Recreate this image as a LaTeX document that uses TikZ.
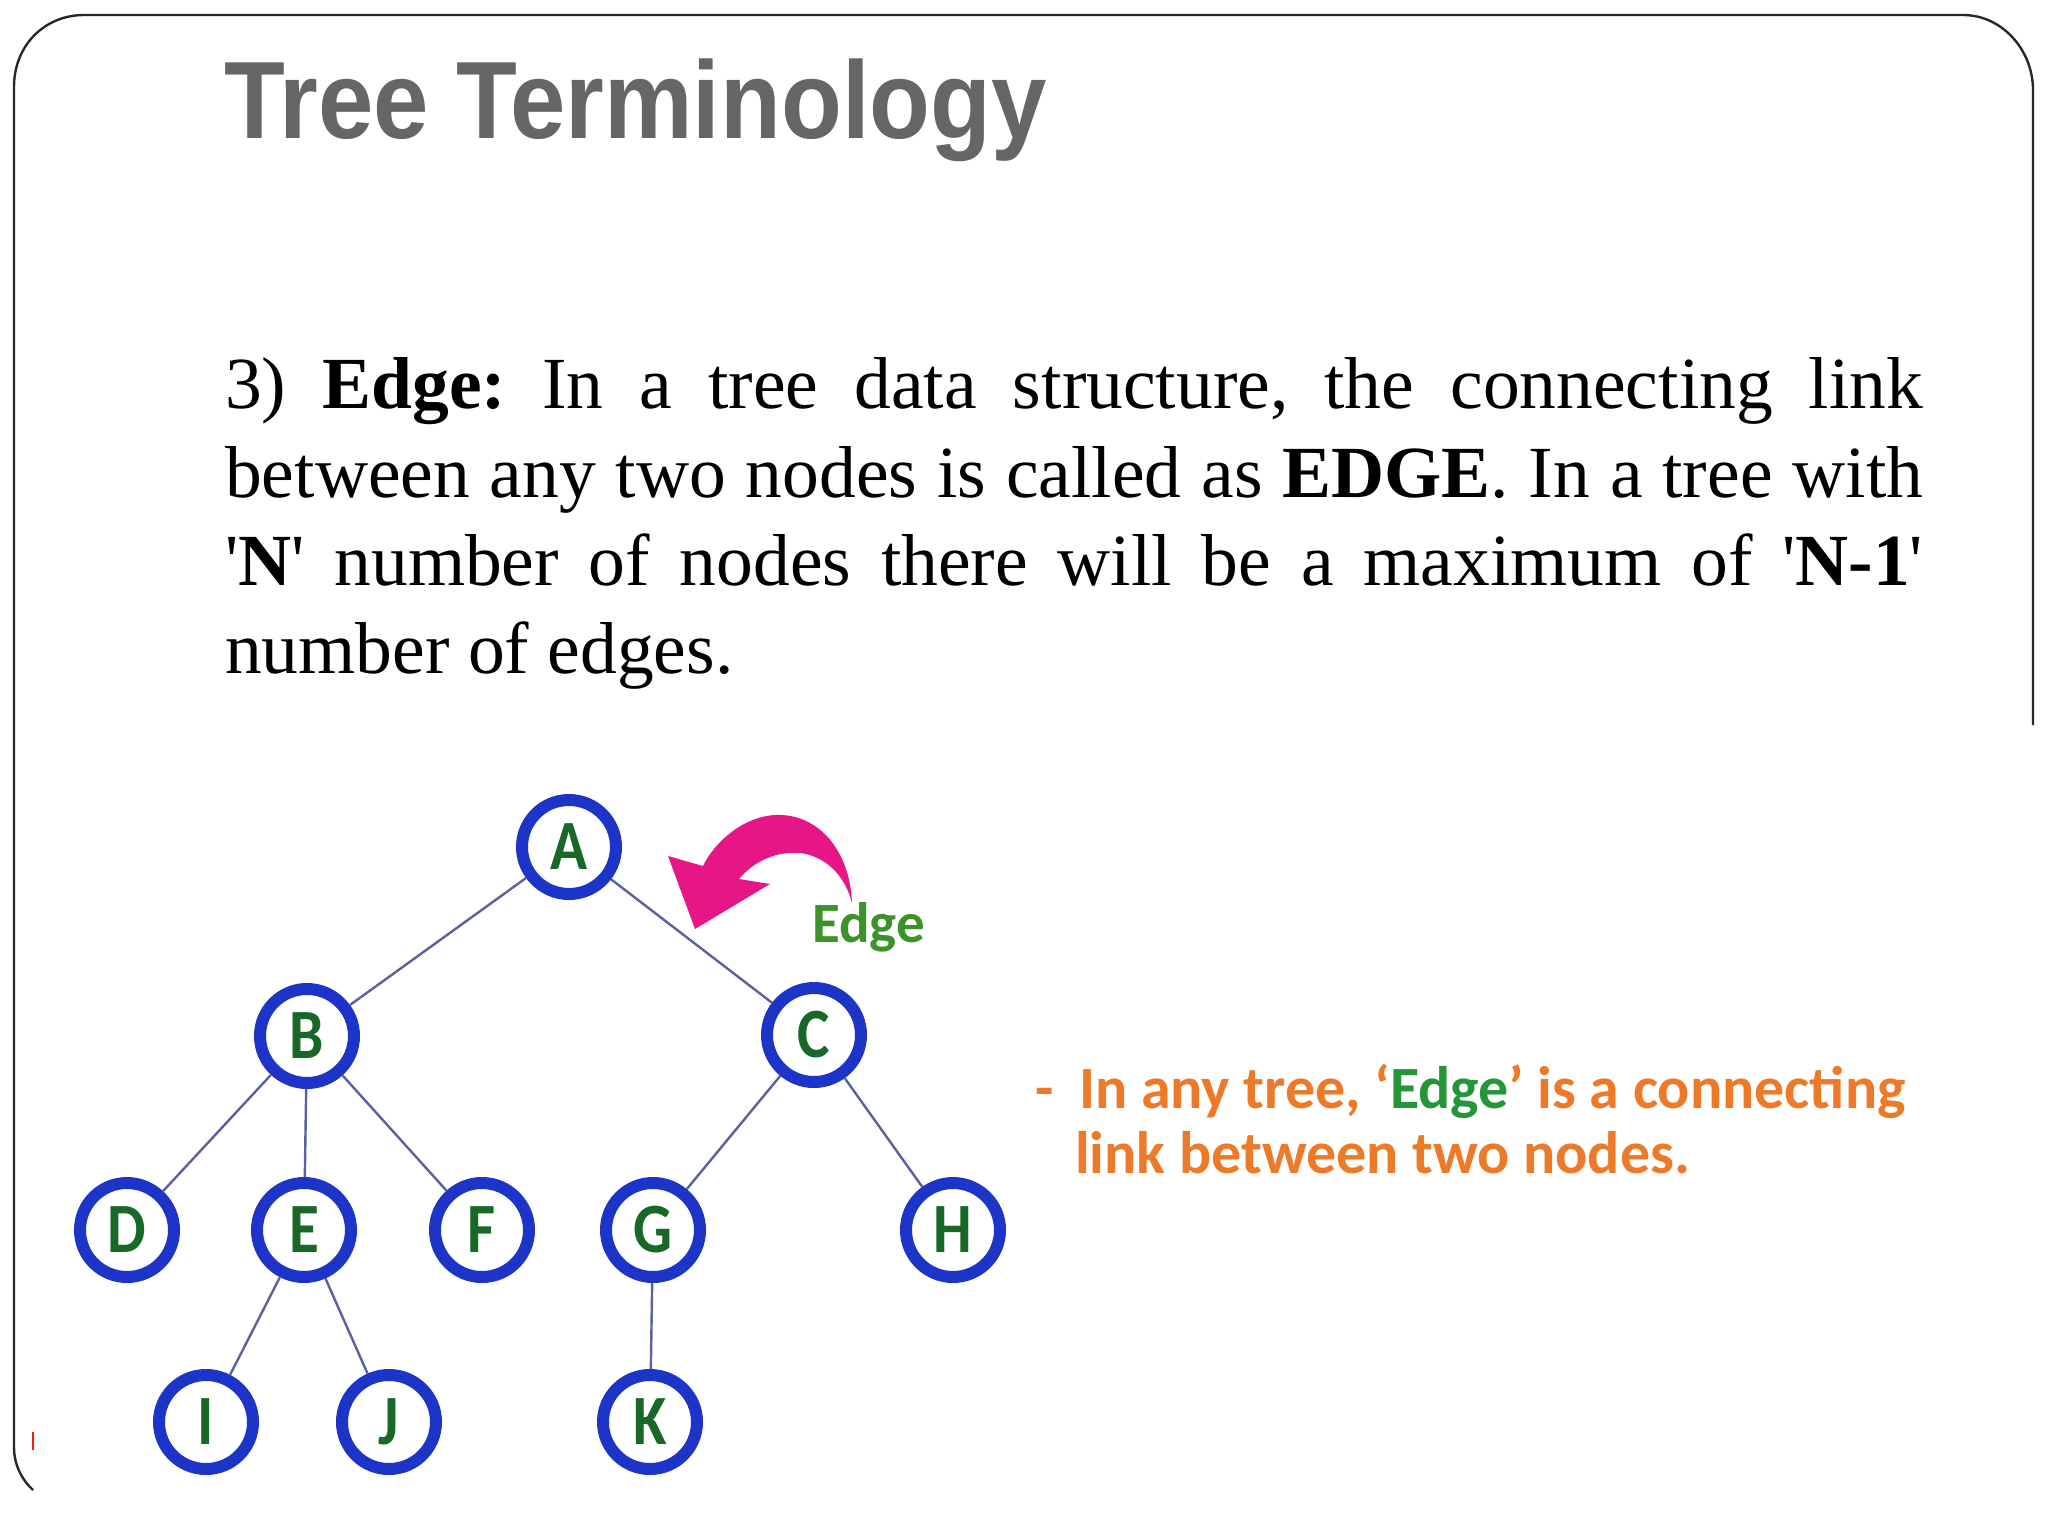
\documentclass[tikz,border=0pt]{standalone}
\usepackage{fontspec}
\setmainfont{Liberation Serif}
\newfontfamily\titlefont{Liberation Sans}
\newfontfamily\bodyfont{Liberation Serif}[Ligatures=TeXOff]
\newfontfamily\calfont{Carlito}
\definecolor{titlegray}{RGB}{103,101,102}
\definecolor{ringblue}{RGB}{28,52,200}
\definecolor{lettergreen}{RGB}{24,104,40}
\definecolor{edgeline}{RGB}{92,96,160}
\definecolor{pinkarrow}{RGB}{230,22,135}
\definecolor{labelgreen}{RGB}{62,146,42}
\definecolor{inlinegreen}{RGB}{34,150,56}
\definecolor{noteorange}{RGB}{236,122,40}
\definecolor{framegray}{RGB}{40,40,40}
\begin{document}
\frenchspacing
\begin{tikzpicture}[x=1pt,y=-1pt,
  treenode/.style={circle, draw=ringblue, line width=12pt, fill=white,
    minimum size=94pt, inner sep=0pt,
    font=\calfont\bfseries\fontsize{68}{68}\selectfont, text=lettergreen},
  link/.style={draw=edgeline, line width=2.4pt},
  bodyline/.style={anchor=base west, inner sep=0pt,
    font=\bodyfont\fontsize{73.5}{88}\selectfont},
  noteline/.style={anchor=base west, inner sep=0pt, text=noteorange,
    font=\calfont\bfseries\fontsize{60}{69}\selectfont},
  frameline/.style={draw=framegray, line width=2.4pt}
]
\useasboundingbox (0,0) rectangle (2048,1536);
\fill[white] (0,0) rectangle (2048,1536);

% slide frame
\draw[frameline] (33,1490) .. controls (22,1480) and (14,1465) .. (14,1447)
  -- (14,87) .. controls (14,45) and (45,15) .. (84,15)
  -- (1963,15) .. controls (2002,15) and (2033,50) .. (2033,90)
  -- (2033,725);
\draw[draw=red!80!orange, line width=1.6pt] (33,1432) -- (33,1450);

% title
\node[anchor=base west, inner sep=0pt, text=titlegray] (title) at (224,139)
  {\titlefont\bfseries\fontsize{110}{110}\selectfont\scalebox{0.905}[1]{Tree Terminology}};

% body text
\node[bodyline] (l1) at (225,408) {\makebox[1698pt][s]{3) \textbf{Edge:} In a tree data structure, the connecting link}};
\node[bodyline] (l2) at (225,497) {\makebox[1698pt][s]{between any two nodes is called as \textbf{EDGE}. In a tree with}};
\node[bodyline] (l3) at (225,585) {\makebox[1698pt][s]{'\textbf{N}' number of nodes there will be a maximum of '\textbf{N-1}'}};
\node[bodyline] (l4) at (225,673) {number of edges.};

% tree
\node[treenode] (A) at (569,847) {\scalebox{0.9}[1.04]{A}};
\node[treenode] (B) at (307,1036) {\scalebox{0.9}[1.04]{B}};
\node[treenode] (C) at (814,1035) {\scalebox{0.9}[1.04]{C}};
\node[treenode] (D) at (127,1230) {\scalebox{0.9}[1.04]{D}};
\node[treenode] (E) at (304,1230) {\scalebox{0.9}[1.04]{E}};
\node[treenode] (F) at (482,1230) {\scalebox{0.9}[1.04]{F}};
\node[treenode] (G) at (653,1230) {\scalebox{0.9}[1.04]{G}};
\node[treenode] (H) at (953,1230) {\scalebox{0.9}[1.04]{H}};
\node[treenode] (I) at (206,1422) {\scalebox{0.9}[1.04]{I}};
\node[treenode] (J) at (389,1422) {\scalebox{0.9}[1.04]{J}};
\node[treenode] (K) at (650,1422) {\scalebox{0.9}[1.04]{K}};

\draw[link] (A) -- (B);
\draw[link] (A) -- (C);
\draw[link] (B) -- (D);
\draw[link] (B) -- (E);
\draw[link] (B) -- (F);
\draw[link] (C) -- (G);
\draw[link] (C) -- (H);
\draw[link] (E) -- (I);
\draw[link] (E) -- (J);
\draw[link] (G) -- (K);

% pink curved arrow
\fill[pinkarrow] (852,903) .. controls (850,850) and (818,813) .. (775,815)
  .. controls (742,817) and (714,843) .. (703,866)
  -- (668,856) -- (695,929) -- (770,884) -- (739,879)
  .. controls (755,860) and (778,851) .. (800,853)
  .. controls (825,856) and (845,875) .. (852,903) -- cycle;

\node[anchor=base west, inner sep=0pt, text=labelgreen,
  font=\calfont\bfseries\fontsize{57}{57}\selectfont] (elabel) at (812,942) {Edge};

% note
\node[noteline] (dash) at (1035,1108) {-};
\node[noteline] (n1) at (1079,1108) {In any tree, ‘\textcolor{inlinegreen}{Edge}’ is a connecting};
\node[noteline] (n2) at (1075,1173) {link between two nodes.};
\end{tikzpicture}
\end{document}
